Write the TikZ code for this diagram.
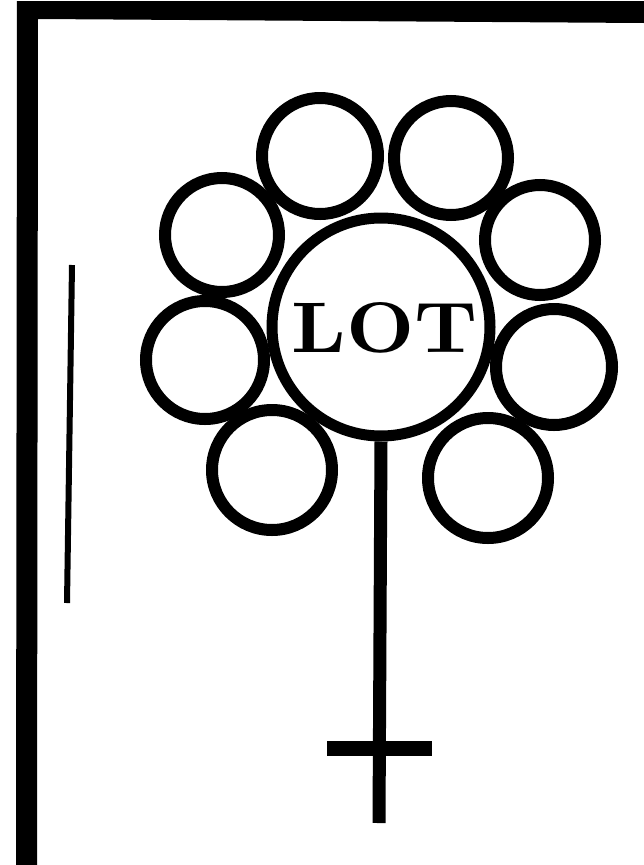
\documentclass[tikz,border=0pt]{standalone}
\begin{document}
\begin{tikzpicture}[x=1pt,y=-1pt,
  petal/.style={circle,draw=black,line width=12pt,inner sep=0pt,minimum size=#1},
  heart/.style={circle,draw=black,line width=11pt,inner sep=0pt,minimum size=218pt},
  stemline/.style={line width=13pt},
  barline/.style={line width=15pt}]
\useasboundingbox[fill=white] (0,0) rectangle (644,865);
% frame
\fill[black] (17,1) -- (644,1) -- (644,23) -- (38,19) -- (37,865) -- (16,865) -- cycle;
\draw[line width=6pt] (72,265) -- (67,603);
% flower
\node[heart] (c) at (381,327) {};
\node at (385,328) {\resizebox{186pt}{50pt}{\bfseries LOT}};
\node[petal=116pt] (tl) at (320,156) {};
\node[petal=114pt] (tr) at (451,158) {};
\node[petal=114pt] (lu) at (222,235) {};
\node[petal=110pt] (ru) at (540,240) {};
\node[petal=118pt] (ll) at (205,360) {};
\node[petal=116pt] (rl) at (554,367) {};
\node[petal=120pt] (bl) at (272,470) {};
\node[petal=120pt] (br) at (488,478) {};
% stem
\coordinate (s) at (379,823);
\coordinate (bl1) at (327,748);
\coordinate (br1) at (432,748);
\draw[stemline] (c.south) -- (s);
\draw[barline] (bl1) -- (br1);
\end{tikzpicture}
\end{document}
